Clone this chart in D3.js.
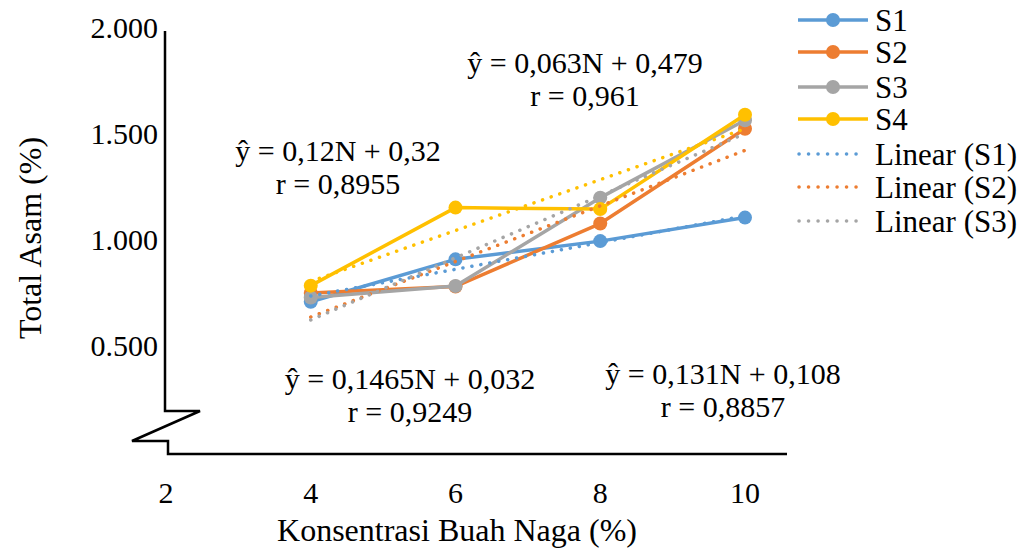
<!DOCTYPE html>
<html><head><meta charset="utf-8">
<script src="https://cdn.jsdelivr.net/npm/d3@7"></script>
<style>body{margin:0;background:#fff}svg{display:block}</style>
</head><body><svg id="c" width="1024" height="554"></svg>
<script>
// ---- data ----
const xValues = [4, 6, 8, 10];
const seriesNames = ["S1", "S2", "S3", "S4"];
const s1 = [0.704, 0.904, 0.990, 1.101];
const s2 = [0.745, 0.776, 1.073, 1.520];
const s3 = [0.724, 0.778, 1.195, 1.560];
const s4 = [0.780, 1.148, 1.141, 1.586];
const seriesColors = ["#5B9BD5", "#ED7D31", "#A5A5A5", "#FFC000"];
const yTicks = [0.5, 1.0, 1.5, 2.0];
const yTickLabels = ["0.500", "1.000", "1.500", "2.000"];
const xTicks = [2, 4, 6, 8, 10];
const trendSlopes = [0.063, 0.131, 0.1465, 0.12];
const trendIntercepts = [0.479, 0.108, 0.032, 0.32];
const eqTexts = ["ŷ = 0,063N + 0,479", "ŷ = 0,131N + 0,108", "ŷ = 0,1465N + 0,032", "ŷ = 0,12N + 0,32"];
const rTexts = ["r = 0,961", "r = 0,8857", "r = 0,9249", "r = 0,8955"];
const legendLabels = ["S1", "S2", "S3", "S4", "Linear (S1)", "Linear (S2)", "Linear (S3)"];
const xTitle = "Konsentrasi Buah Naga (%)";
const yTitle = "Total Asam (%)";

// ---- layout ----
const svg = d3.select("#c");
const FONT = "'Liberation Serif','Times New Roman',serif";
const FS = 30;
const x = d3.scaleLinear().domain([2, 10]).range([166, 745]);
const y = d3.scaleLinear().domain([0, 2]).range([451, 27]);
const allSeries = [s1, s2, s3, s4];

// axes (with break)
const axisG = svg.append("g").attr("stroke", "#000").attr("stroke-width", 2.5).attr("fill", "none");
axisG.append("path").attr("d", d3.line()([[165, 31], [165, 411], [200, 411], [132, 441], [168, 441], [168, 454], [787, 454]]))
  .attr("stroke-linejoin", "miter");

// y tick labels
svg.append("g").selectAll("text").data(yTicks).join("text")
  .attr("x", 158).attr("y", d => y(d)).attr("dy", "0.35em")
  .attr("text-anchor", "end").attr("font-family", FONT).attr("font-size", FS)
  .text((d, i) => yTickLabels[i]);

// x tick labels
svg.append("g").selectAll("text").data(xTicks).join("text")
  .attr("x", d => x(d)).attr("y", 492).attr("dy", "0.35em")
  .attr("text-anchor", "middle").attr("font-family", FONT).attr("font-size", FS)
  .text(d => d);

// titles
svg.append("text").attr("x", 457).attr("y", 530).attr("dy", "0.35em").attr("text-anchor", "middle")
  .attr("font-family", FONT).attr("font-size", 32).text(xTitle);
svg.append("text").attr("transform", "translate(30,238) rotate(-90)").attr("dy", "0.35em").attr("text-anchor", "middle")
  .attr("font-family", FONT).attr("font-size", 32).text(yTitle);

// series lines + markers
const line = d3.line().x(d => x(d[0])).y(d => y(d[1]));
allSeries.forEach((vals, i) => {
  const pts = xValues.map((xv, j) => [xv, vals[j]]);
  svg.append("path").attr("d", line(pts)).attr("fill", "none").attr("stroke", seriesColors[i])
    .attr("stroke-width", 3.5).attr("stroke-linejoin", "round");
  svg.append("g").selectAll("circle").data(pts).join("circle")
    .attr("cx", d => x(d[0])).attr("cy", d => y(d[1])).attr("r", 7).attr("fill", seriesColors[i]);
});

// trendlines (dotted)
allSeries.forEach((vals, i) => {
  const x0 = d3.min(xValues), x1 = d3.max(xValues);
  const pts = [[x0, trendSlopes[i] * x0 + trendIntercepts[i]], [x1, trendSlopes[i] * x1 + trendIntercepts[i]]];
  svg.append("path").attr("d", line(pts)).attr("fill", "none").attr("stroke", seriesColors[i])
    .attr("stroke-width", 3.5).attr("stroke-linecap", "round").attr("stroke-dasharray", "0.1 9");
});

// equation annotations
const annPos = [[585, 62], [723, 373], [410, 378], [338, 150]];
eqTexts.forEach((t, i) => {
  const [ax, ay] = annPos[i];
  svg.append("text").attr("x", ax).attr("y", ay).attr("dy", "0.35em").attr("text-anchor", "middle")
    .attr("font-family", FONT).attr("font-size", FS).text(t);
  svg.append("text").attr("x", ax).attr("y", ay + 33).attr("dy", "0.35em").attr("text-anchor", "middle")
    .attr("font-family", FONT).attr("font-size", FS).text(rTexts[i]);
});

// legend
const lg = svg.append("g");
const legendY = [20, 52, 87, 119, 154, 187, 221];
legendLabels.forEach((lab, i) => {
  const c = seriesColors[i % 4];
  const ly = legendY[i];
  if (i < 4) {
    lg.append("line").attr("x1", 798).attr("x2", 868).attr("y1", ly).attr("y2", ly)
      .attr("stroke", c).attr("stroke-width", 3.5);
    lg.append("circle").attr("cx", 833).attr("cy", ly).attr("r", 7).attr("fill", c);
  } else {
    lg.append("line").attr("x1", 799).attr("x2", 865).attr("y1", ly).attr("y2", ly)
      .attr("stroke", c).attr("stroke-width", 3.5).attr("stroke-linecap", "round").attr("stroke-dasharray", "0.1 9.4");
  }
  lg.append("text").attr("x", 875).attr("y", ly).attr("dy", "0.35em")
    .attr("font-family", FONT).attr("font-size", 31).text(lab);
});
</script></body></html>
